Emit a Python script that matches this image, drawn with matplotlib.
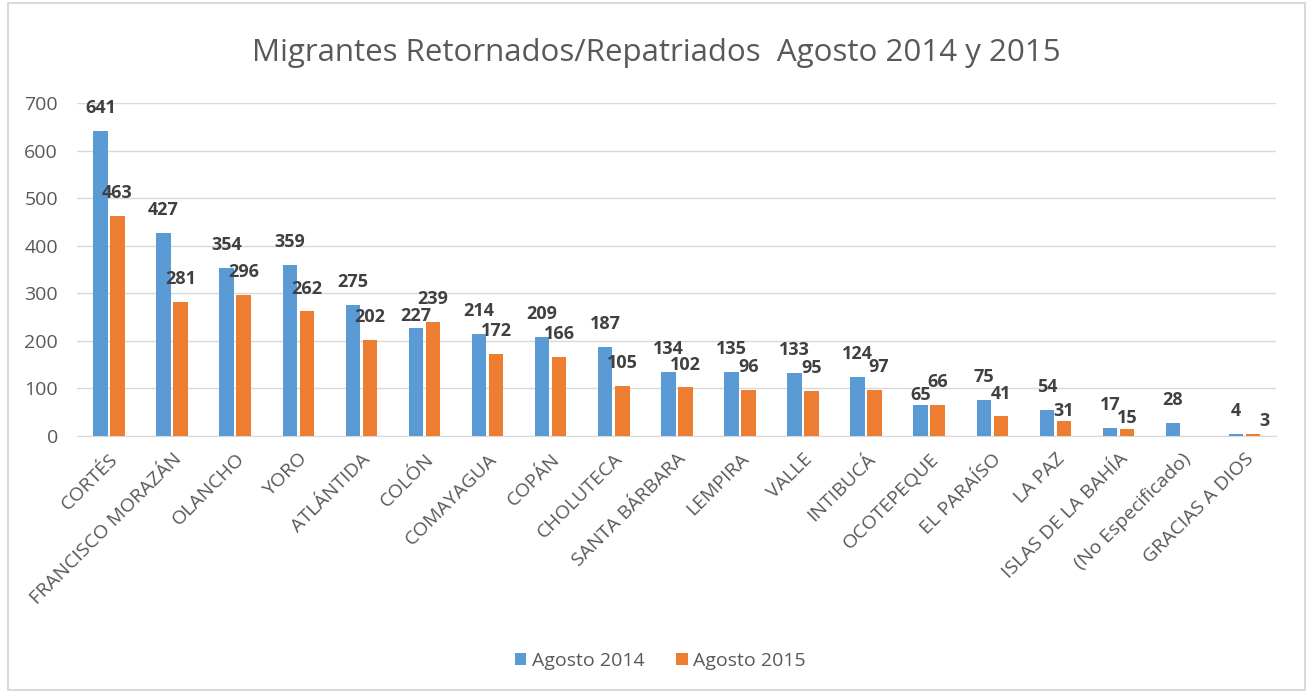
import matplotlib.pyplot as plt
import numpy as np
from matplotlib.patches import Rectangle

plt.rcParams['font.family'] = ['Open Sans', 'DejaVu Sans']

# datos
departamentos = ["CORTÉS", "FRANCISCO MORAZÁN", "OLANCHO", "YORO", "ATLÁNTIDA", "COLÓN",
                 "COMAYAGUA", "COPÁN", "CHOLUTECA", "SANTA BÁRBARA", "LEMPIRA", "VALLE",
                 "INTIBUCÁ", "OCOTEPEQUE", "EL PARAÍSO", "LA PAZ", "ISLAS DE LA BAHÍA",
                 "(No Especificado)", "GRACIAS A DIOS"]
agosto_2014 = [641, 427, 354, 359, 275, 227, 214, 209, 187, 134, 135, 133, 124, 65, 75, 54, 17, 28, 4]
agosto_2015 = [463, 281, 296, 262, 202, 239, 172, 166, 105, 102, 96, 95, 97, 66, 41, 31, 15, np.nan, 3]

azul = '#5B9BD5'
naranja = '#ED7D31'
gris_texto = '#595959'

# etiquetas movidas a mano en el original (serie, indice) -> desplazamiento en puntos
ajustes = {(0, 5): (0, 2), (0, 13): (0, 1), (1, 12): (3, 10), (1, 15): (0, 1),
           (1, 16): (0, 1), (1, 18): (8, 3)}

fig = plt.figure(figsize=(13.13, 6.93), dpi=100)
ax = fig.add_axes([0.059, 0.371, 0.913, 0.48])

x = np.arange(len(departamentos))
w = 0.23
b1 = ax.bar(x - 0.135, agosto_2014, w, color=azul, label='Agosto 2014', zorder=3)
b2 = ax.bar(x + 0.135, np.nan_to_num(agosto_2015), w, color=naranja, label='Agosto 2015', zorder=3)

# etiquetas de datos
for s, (barras, vals) in enumerate(((b1, agosto_2014), (b2, agosto_2015))):
    for i, (rect, v) in enumerate(zip(barras, vals)):
        if np.isnan(v):
            continue
        off = ajustes.get((s, i), (0, 10))
        ax.annotate(f'{int(v)}', (rect.get_x() + rect.get_width() / 2, v),
                    xytext=off, textcoords='offset points', ha='center', va='bottom',
                    fontsize=13, fontweight='bold', color='#404040', zorder=4)

ax.set_xlim(-0.5, len(departamentos) - 0.5)
ax.set_ylim(0, 700)
ax.set_yticks(range(0, 701, 100))
ax.grid(axis='y', color='#D9D9D9', linewidth=1, zorder=0)
ax.set_xticks(x)
ax.set_xticklabels(departamentos, rotation=45, ha='right', rotation_mode='anchor')
ax.tick_params(axis='both', length=0, labelsize=14, labelcolor=gris_texto)
ax.tick_params(axis='x', pad=10)
ax.tick_params(axis='y', pad=14)
for s in ('top', 'right', 'left'):
    ax.spines[s].set_visible(False)
ax.spines['bottom'].set_color('#D9D9D9')

fig.suptitle('Migrantes Retornados/Repatriados  Agosto 2014 y 2015', y=0.945,
             fontsize=22.5, color=gris_texto)
fig.legend(loc='center', bbox_to_anchor=(0.503, 0.046), ncol=2, frameon=False,
           fontsize=14, labelcolor=gris_texto, handlelength=0.6, handleheight=0.6,
           columnspacing=1.6, handletextpad=0.3)

# borde del gráfico
fig.patches.append(Rectangle((0.006, 0.004), 0.988, 0.992, transform=fig.transFigure,
                             fill=False, edgecolor='#D9D9D9', linewidth=1.5))

fig.savefig('out.png', dpi=100)
